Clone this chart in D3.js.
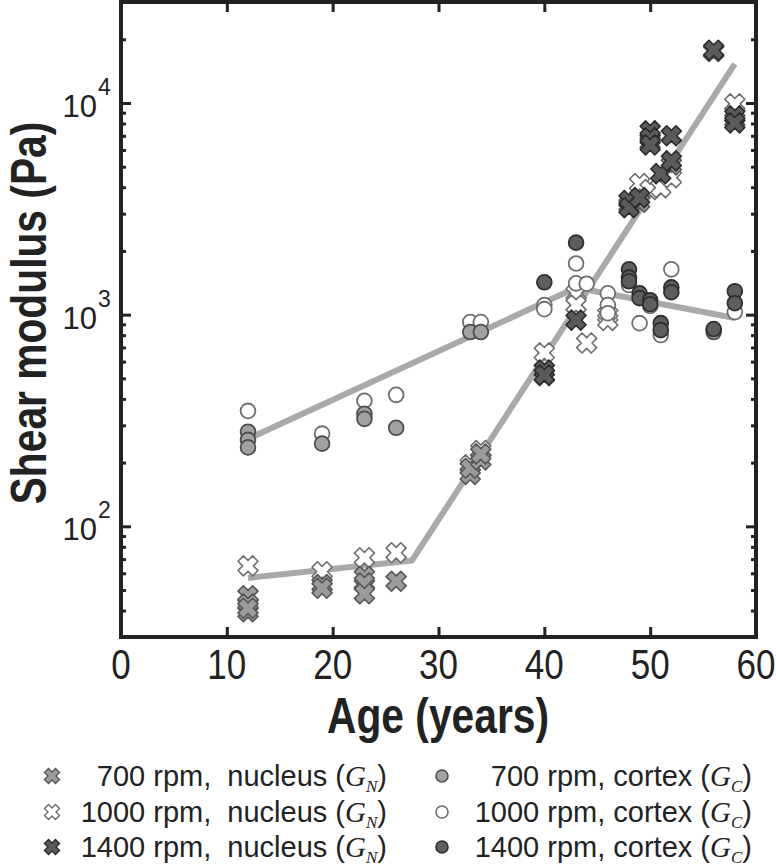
<!DOCTYPE html>
<html><head><meta charset="utf-8">
<script src="https://cdn.jsdelivr.net/npm/d3@7"></script>
<style>body{margin:0;background:#fff}</style>
</head><body><svg id="c" width="776" height="868"></svg>
<script>
// ---- data ----
const xTicks = [0, 10, 20, 30, 40, 50, 60];
const yMajor = [100, 1000, 10000];
const yExp = ["2", "3", "4"];

const nuc700Age = [12, 12, 12, 12, 19, 19, 23, 23, 23, 26, 33, 33, 34, 34, 40, 48, 49, 50, 52, 56, 58];
const nuc700G   = [47, 43, 39.5, 41, 53, 51, 58, 54, 48, 55, 176, 188, 206, 220, 515, 3300, 3400, 6500, 5100, 17500, 8300];

const nuc1000Age = [12, 19, 23, 26, 33, 34, 40, 43, 43, 44, 46, 46, 49, 50, 51, 52, 58];
const nuc1000G   = [65, 61, 71, 75, 195, 228, 660, 1260, 1110, 735, 995, 940, 4160, 3900, 3980, 4440, 9900];

const nuc1400Age = [40, 40, 43, 48, 48, 49, 50, 50, 50, 51, 52, 52, 56, 58, 58];
const nuc1400G   = [548, 519, 942, 3460, 3205, 3570, 7380, 6840, 6340, 4640, 7000, 5330, 17740, 8690, 8050];

const cor700Age = [12, 12, 12, 19, 23, 23, 26, 33, 34, 56];
const cor700G   = [280, 256, 236, 246, 340, 322, 292, 828, 828, 828];

const cor1000Age = [12, 19, 23, 26, 33, 34, 40, 40, 43, 43, 44, 46, 46, 46, 48, 49, 50, 51, 52, 58];
const cor1000G   = [351, 274, 392, 418, 922, 922, 1110, 1062, 1745, 1406, 1400, 1262, 1110, 1016, 1380, 912, 1100, 801, 1637, 1028];

const cor1400Age = [40, 43, 48, 48, 48, 49, 49, 50, 50, 51, 51, 52, 52, 56, 58, 58];
const cor1400G   = [1422, 2190, 1637, 1500, 1438, 1262, 1197, 1170, 1120, 912, 845, 1345, 1276, 855, 1291, 1133];

const fitNucAge = [12, 27.5, 58];
const fitNucG   = [57, 69, 15300];
const fitCorAge = [12, 43, 58];
const fitCorG   = [259, 1340, 965];

const legendLabels = ["700 rpm,\u00a0 nucleus (", "1000 rpm,\u00a0 nucleus (", "1400 rpm,\u00a0 nucleus (",
                      "700 rpm, cortex (", "1000 rpm, cortex (", "1400 rpm, cortex ("];
const legendSub = ["N", "N", "N", "C", "C", "C"];

// ---- styles ----
const st = {
  n700:  {fill: "#9b9b9b", stroke: "#575757"},
  n1000: {fill: "#ffffff", stroke: "#6e6e6e"},
  n1400: {fill: "#5b5b5b", stroke: "#2c2c2c"},
  c700:  {fill: "#a2a2a2", stroke: "#4e4e4e"},
  c1000: {fill: "#ffffff", stroke: "#6e6e6e"},
  c1400: {fill: "#5e5e5e", stroke: "#2e2e2e"}
};
const axisColor = "#222";
const sans = "'Liberation Sans',Arial,sans-serif";
const serif = "'Liberation Serif','Times New Roman',serif";
const narrowScale = 0.815;

const svg = d3.select("#c");
const x = d3.scaleLinear().domain([0, 60]).range([121, 756]);
const y = d3.scaleLog().domain([30, 30000]).range([637, 2]);

function crossPath(h) {
  const a = h * 0.38, r = h * Math.SQRT2 - a;
  const p = [[a, r], [a, a], [r, a], [r, -a], [a, -a], [a, -r], [-a, -r], [-a, -a], [-r, -a], [-r, a], [-a, a], [-a, r]];
  return "M" + p.map(q => q.join(",")).join("L") + "Z";
}

// fit lines
const line = d3.line().x(d => x(d[0])).y(d => y(d[1]));
[[fitNucAge, fitNucG], [fitCorAge, fitCorG]].forEach(([a, g]) => {
  svg.append("path").datum(a.map((v, i) => [v, g[i]])).attr("d", line)
    .attr("fill", "none").attr("stroke", "#a9a9a9").attr("stroke-width", 6)
    .attr("stroke-linejoin", "round");
});

function drawCross(ages, vals, s, h) {
  svg.append("g").selectAll("path").data(ages.map((v, i) => [v, vals[i]])).join("path")
    .attr("d", crossPath(h))
    .attr("transform", d => `translate(${x(d[0])},${y(d[1])}) rotate(45)`)
    .attr("fill", s.fill).attr("stroke", s.stroke).attr("stroke-width", 1.6)
    .attr("stroke-linejoin", "round");
}
function drawCirc(ages, vals, s, r) {
  svg.append("g").selectAll("circle").data(ages.map((v, i) => [v, vals[i]])).join("circle")
    .attr("cx", d => x(d[0])).attr("cy", d => y(d[1])).attr("r", r)
    .attr("fill", s.fill).attr("stroke", s.stroke).attr("stroke-width", 1.8);
}
drawCross(nuc1000Age, nuc1000G, st.n1000, 10);
drawCross(nuc700Age, nuc700G, st.n700, 10);
drawCross(nuc1400Age, nuc1400G, st.n1400, 10);
drawCirc(cor1000Age, cor1000G, st.c1000, 7.4);
drawCirc(cor700Age, cor700G, st.c700, 7.4);
drawCirc(cor1400Age, cor1400G, st.c1400, 7.4);

// frame
svg.append("rect").attr("x", x(0)).attr("y", y(30000)).attr("width", x(60) - x(0)).attr("height", y(30) - y(30000))
  .attr("fill", "none").attr("stroke", axisColor).attr("stroke-width", 4);

// ticks
const minor = y.ticks().filter(v => !yMajor.includes(v));
function tickStyle(g) { g.select(".domain").remove(); g.selectAll("line").attr("stroke", axisColor).attr("stroke-width", 3); g.selectAll("text").remove(); }
const inner = xTicks.slice(1, -1);
svg.append("g").attr("transform", `translate(0,${y(30)})`).call(d3.axisBottom(x).tickValues(inner).tickSize(-10)).call(tickStyle);
svg.append("g").attr("transform", `translate(0,${y(30000)})`).call(d3.axisTop(x).tickValues(inner).tickSize(-10)).call(tickStyle);
svg.append("g").attr("transform", `translate(${x(0)},0)`).call(d3.axisLeft(y).tickValues(yMajor).tickSize(-10)).call(tickStyle);
svg.append("g").attr("transform", `translate(${x(0)},0)`).call(d3.axisLeft(y).tickValues(minor).tickSize(-5)).call(tickStyle);
svg.append("g").attr("transform", `translate(${x(60)},0)`).call(d3.axisRight(y).tickValues(yMajor).tickSize(-10)).call(tickStyle);
svg.append("g").attr("transform", `translate(${x(60)},0)`).call(d3.axisRight(y).tickValues(minor).tickSize(-5)).call(tickStyle);

// x tick labels (condensed)
svg.append("g").selectAll("text").data(xTicks).join("text")
  .attr("transform", d => `translate(${x(d)},679) scale(${narrowScale},1)`).attr("text-anchor", "middle")
  .attr("font-family", sans).attr("font-size", 43).attr("fill", axisColor).text(d => d);

// y tick labels
yMajor.forEach((v, i) => {
  svg.append("text").attr("x", 97).attr("y", y(v) + 14).attr("text-anchor", "end")
    .attr("font-family", sans).attr("font-size", 31).attr("fill", axisColor).text("10");
  svg.append("text").attr("x", 98).attr("y", y(v) - 8)
    .attr("font-family", sans).attr("font-size", 23).attr("fill", axisColor).text(yExp[i]);
});

// axis titles (condensed bold)
svg.append("text").attr("transform", `translate(438,733) scale(${narrowScale},1)`).attr("text-anchor", "middle")
  .attr("font-family", sans).attr("font-weight", "bold").attr("font-size", 50).attr("fill", axisColor)
  .text("Age (years)");
svg.append("text").attr("transform", `translate(46,313) rotate(-90) scale(${narrowScale},1)`).attr("text-anchor", "middle")
  .attr("font-family", sans).attr("font-weight", "bold").attr("font-size", 50).attr("fill", axisColor)
  .text("Shear modulus (Pa)");

// legend
const legStyles = [st.n700, st.n1000, st.n1400, st.c700, st.c1000, st.c1400];
const legRowY = [776, 812, 847];
legendLabels.forEach((lab, i) => {
  const col = Math.floor(i / 3), row = i % 3;
  const mx = col === 0 ? 52 : 442, tx = col === 0 ? 387 : 752, cy = legRowY[row];
  if (col === 0) {
    svg.append("path").attr("d", crossPath(7.5)).attr("transform", `translate(${mx},${cy}) rotate(45)`)
      .attr("fill", legStyles[i].fill).attr("stroke", legStyles[i].stroke).attr("stroke-width", 1.4);
  } else {
    svg.append("circle").attr("cx", mx).attr("cy", cy).attr("r", 6)
      .attr("fill", legStyles[i].fill).attr("stroke", legStyles[i].stroke).attr("stroke-width", 1.6);
  }
  const t = svg.append("text").attr("x", tx).attr("y", cy + 10).attr("text-anchor", "end")
    .attr("font-family", sans).attr("font-size", 29).attr("fill", axisColor);
  t.append("tspan").text(lab);
  t.append("tspan").attr("font-family", serif).attr("font-style", "italic").text("G");
  t.append("tspan").attr("font-family", serif).attr("font-style", "italic").attr("font-size", 17).attr("dy", 6).text(legendSub[i]);
  t.append("tspan").attr("dy", -6).text(")");
});
</script>
</body></html>
